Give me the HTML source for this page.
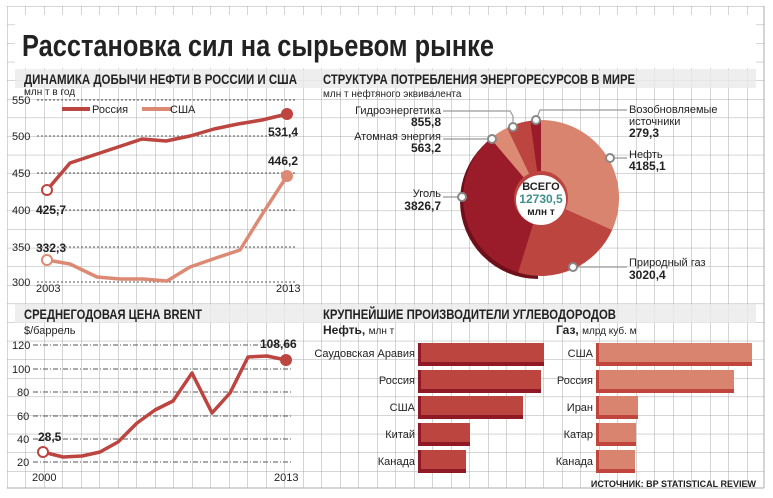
<!DOCTYPE html>
<html><head><meta charset="utf-8"><style>
body{margin:0;background:#fff}
svg{display:block}
text{font-family:"Liberation Sans Narrow","Liberation Sans","DejaVu Sans",sans-serif;fill:#222}
.b{font-weight:bold}
</style></head><body>
<svg width="773" height="498" viewBox="0 0 773 498" xmlns="http://www.w3.org/2000/svg">
<defs>
<pattern id="g" x="7" y="6" width="18.5" height="18.6" patternUnits="userSpaceOnUse">
<path d="M0 0V18.6M0 0H18.5" stroke="#ababab" stroke-width="1" fill="none"/>
</pattern>
</defs>
<rect x="7" y="6" width="757" height="482" fill="url(#g)"/>
<line x1="764" y1="6" x2="764" y2="488" stroke="#ababab"/>
<line x1="7" y1="488" x2="764" y2="488" stroke="#ababab"/>
<rect x="15" y="15" width="741" height="53" fill="#fff"/>
<text x="22" y="56" class="b" font-size="31" textLength="472" lengthAdjust="spacingAndGlyphs">Расстановка сил на сырьевом рынке</text>
<rect x="15" y="69" width="741" height="19" fill="#eaeaea" opacity="0.8"/>
<rect x="15" y="304" width="741" height="19" fill="#eaeaea" opacity="0.8"/>
<text x="24" y="84" class="b" font-size="14" textLength="273" lengthAdjust="spacingAndGlyphs">ДИНАМИКА ДОБЫЧИ НЕФТИ В РОССИИ И США</text>
<text x="323" y="84" class="b" font-size="14" textLength="312" lengthAdjust="spacingAndGlyphs">СТРУКТУРА ПОТРЕБЛЕНИЯ ЭНЕРГОРЕСУРСОВ В МИРЕ</text>
<text x="24" y="319" class="b" font-size="14" textLength="178" lengthAdjust="spacingAndGlyphs">СРЕДНЕГОДОВАЯ ЦЕНА BRENT</text>
<text x="323" y="319" class="b" font-size="14" textLength="293" lengthAdjust="spacingAndGlyphs">КРУПНЕЙШИЕ ПРОИЗВОДИТЕЛИ УГЛЕВОДОРОДОВ</text>

<!-- Chart 1 -->
<text x="24" y="95" font-size="10">млн т в год</text>
<g stroke="#777" stroke-dasharray="2,2" stroke-width="1.2">
<line x1="37" y1="100" x2="295" y2="100"/><line x1="37" y1="136" x2="295" y2="136"/>
<line x1="37" y1="173" x2="295" y2="173"/><line x1="37" y1="210" x2="295" y2="210"/>
<line x1="37" y1="247" x2="295" y2="247"/><line x1="37" y1="282" x2="295" y2="282"/>
</g>
<g font-size="11"><text x="12" y="104">550</text><text x="12" y="140">500</text><text x="12" y="177">450</text><text x="12" y="214">400</text><text x="12" y="251">350</text><text x="12" y="286">300</text></g>
<line x1="62" y1="109" x2="90" y2="109" stroke="#bd4540" stroke-width="4"/><text x="92" y="113" font-size="11">Россия</text>
<line x1="142" y1="109" x2="172" y2="109" stroke="#dc8a74" stroke-width="4"/><text x="170" y="113" font-size="11">США</text>
<polyline points="47,190 70,163 94,155 118,147 142,139 166,141 190,136 214,129 238,124 262,120 287,114" fill="none" stroke="#bd4540" stroke-width="3.5" stroke-linejoin="round"/>
<polyline points="47,260 70,264 97,277 120,279 143,279 167,281 190,267 213,259 240,250 263,213 287,176" fill="none" stroke="#dc8a74" stroke-width="3.5" stroke-linejoin="round"/>
<circle cx="47" cy="190" r="5" fill="#fff" stroke="#bd4540" stroke-width="2"/>
<circle cx="287" cy="114" r="6" fill="#bd4540"/>
<circle cx="47" cy="260" r="5" fill="#fff" stroke="#dc8a74" stroke-width="2"/>
<circle cx="287" cy="176" r="6" fill="#dc8a74"/>
<g class="b" font-size="12"><text x="268" y="136" class="b">531,4</text><text x="268" y="165" class="b">446,2</text><text x="36" y="214" class="b">425,7</text><text x="36" y="252" class="b">332,3</text></g>
<g font-size="11"><text x="36" y="292">2003</text><text x="276" y="292">2013</text></g>

<!-- Chart Brent -->
<text x="24" y="334" font-size="11">$/баррель</text>
<g stroke="#777" stroke-dasharray="5,2,1,2" stroke-width="1.2">
<line x1="33" y1="345" x2="292" y2="345"/><line x1="33" y1="369" x2="292" y2="369"/>
<line x1="33" y1="392" x2="292" y2="392"/><line x1="33" y1="416" x2="292" y2="416"/>
<line x1="33" y1="439" x2="292" y2="439"/><line x1="33" y1="462" x2="292" y2="462"/>
</g>
<g font-size="11"><text x="12" y="349">120</text><text x="12" y="373">100</text><text x="17" y="396">80</text><text x="17" y="420">60</text><text x="17" y="443">40</text><text x="17" y="466">20</text></g>
<polyline points="43,452 63,457 82,456 100,452 118,442 137,423 155,410 173,401 192,373 212,413 230,393 248,357 267,356 286,360" fill="none" stroke="#bd4540" stroke-width="3.5" stroke-linejoin="round"/>
<circle cx="43" cy="452" r="5" fill="#fff" stroke="#bd4540" stroke-width="2"/>
<circle cx="286" cy="360" r="6" fill="#bd4540"/>
<text x="38" y="441" class="b" font-size="12">28,5</text>
<text x="260" y="348" class="b" font-size="12">108,66</text>
<g font-size="11"><text x="32" y="481">2000</text><text x="274" y="481">2013</text></g>

<!-- Pie -->
<text x="323" y="97" font-size="10">млн т нефтяного эквивалента</text>
<g stroke="#999" stroke-width="1.2" fill="none">
<polyline points="443,111 510,111 513,116 513,127"/>
<polyline points="443,139 492,139"/>
<polyline points="536,120 540,110 627,110"/>
<polyline points="610,158 627,158"/>
<polyline points="443,197 462,197"/>
<polyline points="573,267 627,267"/>
</g>
<path d="M541,120 A78,78 0 1,0 541,276 Z" fill="#6e1019" transform="translate(-3,3)"/>
<g transform="translate(541,198)">
<path d="M0,-78 A78,78 0 0,1 71.2,31.9 L0,0Z" fill="#d9846f"/>
<path d="M71.2,31.9 A78,78 0 0,1 -23.0,74.5 L0,0Z" fill="#bd4540"/>
<path d="M-23.0,74.5 A78,78 0 0,1 -50.4,-59.5 L0,0Z" fill="#9a1b2a"/>
<path d="M-50.4,-59.5 A78,78 0 0,1 -33.8,-70.3 L0,0Z" fill="#dc8a74"/>
<path d="M-33.8,-70.3 A78,78 0 0,1 -10.7,-77.3 L0,0Z" fill="#bd4540"/>
<path d="M-10.7,-77.3 A78,78 0 0,1 0,-78 L0,0Z" fill="#9a1b2a"/>
<circle cx="0" cy="0" r="27" fill="#bd4540"/>
<circle cx="0" cy="2" r="25" fill="#fff"/>
</g>
<text x="541" y="190" class="b" font-size="11" text-anchor="middle">ВСЕГО</text>
<text x="541" y="203" class="b" font-size="12" text-anchor="middle" style="fill:#3f8f8a">12730,5</text>
<text x="541" y="215" class="b" font-size="10" text-anchor="middle">млн т</text>
<g fill="#fff" stroke="#888" stroke-width="2">
<circle cx="513" cy="127" r="4"/><circle cx="492" cy="139" r="4"/><circle cx="536" cy="120" r="4"/>
<circle cx="610" cy="158" r="4"/><circle cx="462" cy="197" r="4"/><circle cx="573" cy="267" r="4"/>
</g>
<g font-size="11" text-anchor="end">
<text x="441" y="114">Гидроэнергетика</text><text x="441" y="126" class="b" font-size="12">855,8</text>
<text x="441" y="140">Атомная энергия</text><text x="441" y="152" class="b" font-size="12">563,2</text>
<text x="441" y="197">Уголь</text><text x="441" y="210" class="b" font-size="12">3826,7</text>
</g>
<g font-size="11">
<text x="629" y="113">Возобновляемые</text><text x="629" y="125">источники</text><text x="629" y="137" class="b" font-size="12">279,3</text>
<text x="629" y="158">Нефть</text><text x="629" y="170" class="b" font-size="12">4185,1</text>
<text x="629" y="266">Природный газ</text><text x="629" y="279" class="b" font-size="12">3020,4</text>
</g>

<!-- Bars -->
<text x="323" y="334" class="b" font-size="12">Нефть, <tspan font-size="10" font-weight="normal">млн т</tspan></text>
<text x="556" y="334" class="b" font-size="12">Газ, <tspan font-size="10" font-weight="normal">млрд куб. м</tspan></text>
<g>
<rect x="418" y="343" width="126" height="23" fill="#8f1a25"/><rect x="421" y="343" width="123" height="19" fill="#bd4540"/>
<rect x="418" y="370" width="123" height="23" fill="#8f1a25"/><rect x="421" y="370" width="120" height="19" fill="#bd4540"/>
<rect x="418" y="396" width="105" height="23" fill="#8f1a25"/><rect x="421" y="396" width="102" height="19" fill="#bd4540"/>
<rect x="418" y="423" width="52" height="23" fill="#8f1a25"/><rect x="421" y="423" width="49" height="19" fill="#bd4540"/>
<rect x="418" y="450" width="48" height="23" fill="#8f1a25"/><rect x="421" y="450" width="45" height="19" fill="#bd4540"/>
<rect x="596" y="343" width="156" height="23" fill="#c0453c"/><rect x="599" y="343" width="153" height="19" fill="#d9846f"/>
<rect x="596" y="370" width="138" height="23" fill="#c0453c"/><rect x="599" y="370" width="135" height="19" fill="#d9846f"/>
<rect x="596" y="396" width="42" height="23" fill="#c0453c"/><rect x="599" y="396" width="39" height="19" fill="#d9846f"/>
<rect x="596" y="423" width="40" height="23" fill="#c0453c"/><rect x="599" y="423" width="37" height="19" fill="#d9846f"/>
<rect x="596" y="450" width="39" height="23" fill="#c0453c"/><rect x="599" y="450" width="36" height="19" fill="#d9846f"/>
</g>
<g font-size="11" text-anchor="end">
<text x="415" y="357">Саудовская Аравия</text><text x="415" y="384">Россия</text><text x="415" y="411">США</text><text x="415" y="438">Китай</text><text x="415" y="465">Канада</text>
<text x="593" y="357">США</text><text x="593" y="384">Россия</text><text x="593" y="411">Иран</text><text x="593" y="438">Катар</text><text x="593" y="465">Канада</text>
</g>
<text x="756" y="487" class="b" font-size="9" text-anchor="end">ИСТОЧНИК: BP STATISTICAL REVIEW</text>
</svg>
</body></html>
